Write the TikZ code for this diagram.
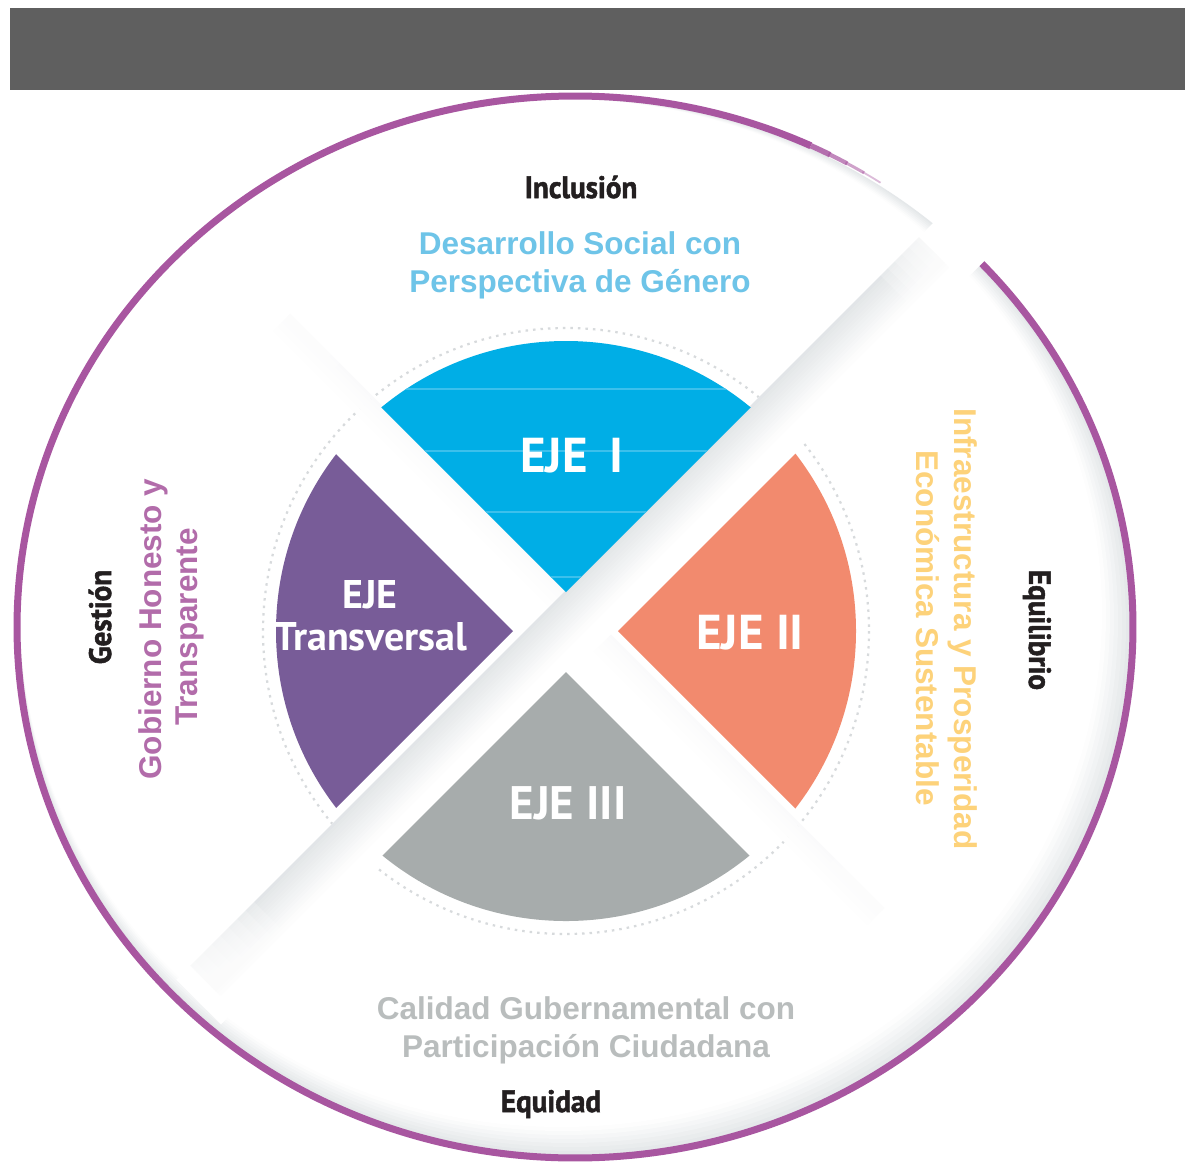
\documentclass[tikz,border=0pt]{standalone}
\usepackage{fontspec}
\setmainfont{Liberation Sans}
\newfontfamily\ejefont{PT Sans}
\newfontfamily\condfont[FakeStretch=0.94, FakeBold=1.6]{PT Sans}
\definecolor{barcol}{RGB}{95,95,95}
\definecolor{ringcol}{RGB}{168,86,160}
\definecolor{shadowc}{RGB}{198,204,208}
\definecolor{dotc}{RGB}{215,218,220}
\definecolor{cyanE}{RGB}{0,174,230}
\definecolor{cyanL}{RGB}{60,192,236}
\definecolor{salmonE}{RGB}{242,138,110}
\definecolor{greyE}{RGB}{167,172,172}
\definecolor{purpleT}{RGB}{120,92,152}
\definecolor{txtblue}{RGB}{110,196,232}
\definecolor{txtyellow}{RGB}{253,210,122}
\definecolor{txtgrey}{RGB}{185,189,189}
\definecolor{txtpurple}{RGB}{178,108,170}
\definecolor{labcol}{RGB}{35,31,32}
\tikzset{
  blk/.style={font=\condfont\bfseries\fontsize{31}{36}\selectfont, text=labcol,
    text height=22pt, text depth=0pt, inner sep=0pt},
  desc/.style={font=\bfseries\fontsize{31.5}{37}\selectfont,
    text height=22.5pt, text depth=0pt, inner sep=0pt},
  eje/.style={font=\ejefont\bfseries\fontsize{49}{52}\selectfont, text=white,
    text height=34pt, text depth=0pt, inner sep=0pt}
}
\begin{document}
\begin{tikzpicture}[x=1pt,y=-1pt]
\useasboundingbox (0,0) rectangle (1185,1171);
\fill[white] (0,0) rectangle (1185,1171);
% top bar
\fill[barcol] (10,8) rectangle (1185,90);
% soft inner shadow of the outer ring (crescent, lower right)
\fill[shadowc!45!white] (575,627) ellipse [x radius=555, y radius=528];
\foreach \i in {1,...,6} {
  \pgfmathtruncatemacro\p{45-7*\i}
  \fill[shadowc!\p!white] ({575-2*\i},{627-2*\i}) ellipse [x radius={555-2*\i}, y radius={528-2*\i}];
}
\fill[white] (561,613) ellipse [x radius=541, y radius=514];
% outer ring with gap
\draw[ringcol, line width=7pt] (575,627) ++(-43.5:558 and 531)
  arc[start angle=-43.5, end angle=295, x radius=558, y radius=531];
\foreach \a/\w/\o in {295/5.5/0.85, 297/4.2/0.7, 299/3/0.55, 301/1.8/0.4}
  \draw[ringcol, line width=\w pt, opacity=\o] (575,627) ++(\a:558 and 531)
    arc[start angle=\a, end angle=\a+2.2, x radius=558, y radius=531];
% dotted circle
\draw[dotc, line width=2.2pt, dash pattern=on 2.5pt off 5pt] (566,631) circle[radius=303];
% faint second band
\begin{scope}[shift={(566,632)}, rotate=-45]
  \foreach \k in {0,...,7} {
    \pgfmathtruncatemacro\p{9-1.1*\k}
    \fill[shadowc!\p!white] (-420,{-30+3*\k}) rectangle (420,{-30+3*\k+3.3});
  }
  \foreach \j in {1,...,6} {
    \fill[white,opacity=0.25] (-422,-32) rectangle ({-422+12*\j},-5);
    \fill[white,opacity=0.25] ({422-12*\j},-32) rectangle (422,-5);
  }
\end{scope}
% raised diagonal band
\begin{scope}[shift={(566,634)}, rotate=45]
  \fill[white] (-520,-31) rectangle (620,32);
  \foreach \k in {0,...,13} {
    \pgfmathtruncatemacro\p{50-3.6*\k}
    \fill[shadowc!\p!white] (-500,{-31+3*\k}) rectangle (530,{-31+3*\k+3.3});
  }
  \foreach \j in {1,...,8} \fill[white,opacity=0.2] (-506,-33) rectangle ({-506+12*\j},33);
  \foreach \j in {1,...,6} \fill[white,opacity=0.2] ({536-10*\j},-33) rectangle (540,33);
\end{scope}
% wedges
\begin{scope}
  \clip (566,631) circle[radius=290];
  \fill[cyanE] (566,592) -- (166,192) -- (966,192) -- cycle;
  \fill[salmonE] (618,631) -- (1018,231) -- (1018,1031) -- cycle;
  \fill[greyE] (566,672) -- (166,1072) -- (966,1072) -- cycle;
  \fill[purpleT] (513,631) -- (113,231) -- (113,1031) -- cycle;
  \begin{scope}
    \clip (566,592) -- (166,192) -- (966,192) -- cycle;
    \foreach \yy in {389,451,512,577} \draw[cyanL, line width=1.2pt] (250,\yy) -- (900,\yy);
  \end{scope}
\end{scope}
% labels
\node[blk] (inc) at (581,187) {Inclusión};
\node[desc, text=txtblue] (ds1) at (580,243) {Desarrollo Social con};
\node[desc, text=txtblue] (ds2) at (580,281) {Perspectiva de Género};
\node[blk, rotate=90] (ges) at (100,617) {Gestión};
\node[desc, text=txtpurple, rotate=90] (gob1) at (150,629) {Gobierno Honesto y};
\node[desc, text=txtpurple, rotate=90] (gob2) at (186,627) {Transparente};
\node[blk, rotate=-90] (equ) at (1040,630) {Equilibrio};
\node[desc, text=txtyellow, rotate=-90] (inf1) at (966,629) {Infraestructura y Prosperidad};
\node[desc, text=txtyellow, rotate=-90] (inf2) at (928,628) {Económica Sustentable};
\node[desc, text=txtgrey] (cal1) at (586,1008) {Calidad Gubernamental con};
\node[desc, text=txtgrey] (cal2) at (586,1046) {Participación Ciudadana};
\node[blk] (eqd) at (551,1101) {Equidad};
\node[eje] (e1) at (572,455) {EJE\hspace{0.45em}I};
\node[eje] (e2) at (750,632) {EJE II};
\node[eje, font=\ejefont\bfseries\fontsize{47}{50}\selectfont, text height=32.5pt] (e3) at (568,803) {EJE III};
\node[eje, font=\ejefont\bfseries\fontsize{40}{44}\selectfont, text height=28pt] (et1) at (370,594) {EJE};
\node[eje, font=\ejefont\bfseries\fontsize{40}{44}\selectfont, text height=28pt] (et2) at (371,636) {Transversal};
\end{tikzpicture}
\end{document}
